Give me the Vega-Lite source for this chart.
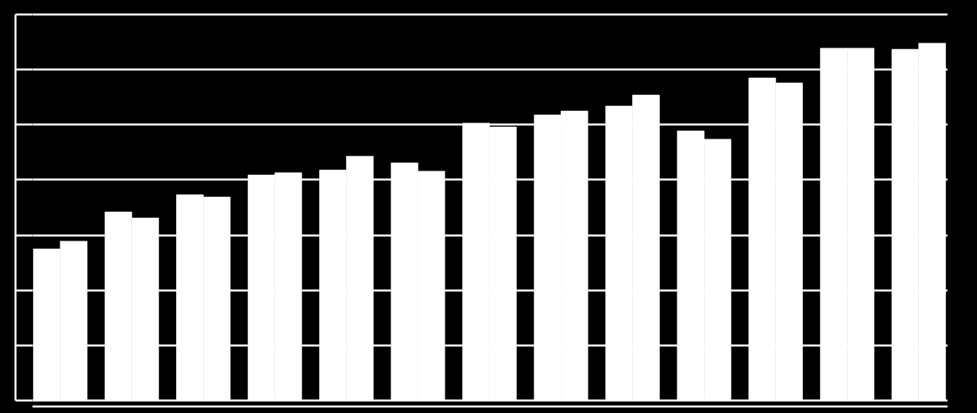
{
  "$schema": "https://vega.github.io/schema/vega-lite/v6.json",
  "width": 915,
  "height": 386,
  "autosize": "none",
  "padding": {"left": 32, "top": 14, "right": 30, "bottom": 13},
  "background": "black",
  "config": {"view": {"stroke": null}},
  "data": {
    "values": [
      {"group": "1", "series": "A", "value": 274}, {"group": "1", "series": "B", "value": 288},
      {"group": "2", "series": "A", "value": 341}, {"group": "2", "series": "B", "value": 330},
      {"group": "3", "series": "A", "value": 372}, {"group": "3", "series": "B", "value": 368},
      {"group": "4", "series": "A", "value": 408}, {"group": "4", "series": "B", "value": 412},
      {"group": "5", "series": "A", "value": 417}, {"group": "5", "series": "B", "value": 442},
      {"group": "6", "series": "A", "value": 430}, {"group": "6", "series": "B", "value": 415},
      {"group": "7", "series": "A", "value": 502}, {"group": "7", "series": "B", "value": 495},
      {"group": "8", "series": "A", "value": 517}, {"group": "8", "series": "B", "value": 524},
      {"group": "9", "series": "A", "value": 533}, {"group": "9", "series": "B", "value": 553},
      {"group": "10", "series": "A", "value": 488}, {"group": "10", "series": "B", "value": 473},
      {"group": "11", "series": "A", "value": 584}, {"group": "11", "series": "B", "value": 575},
      {"group": "12", "series": "A", "value": 638}, {"group": "12", "series": "B", "value": 638},
      {"group": "13", "series": "A", "value": 636}, {"group": "13", "series": "B", "value": 647}
    ]
  },
  "mark": {"type": "bar", "fill": "white", "stroke": "white", "strokeWidth": 0.6},
  "encoding": {
    "x": {
      "field": "group",
      "type": "ordinal",
      "sort": null,
      "scale": {"paddingInner": 0.25, "paddingOuter": 0.02},
      "axis": {
        "labels": false,
        "ticks": false,
        "title": null,
        "domainColor": "white",
        "domainWidth": 2,
        "offset": 6
      }
    },
    "xOffset": {
      "field": "series",
      "type": "nominal",
      "scale": {"paddingInner": 0, "paddingOuter": 0}
    },
    "y": {
      "field": "value",
      "type": "quantitative",
      "scale": {"domain": [0, 700], "nice": false},
      "axis": {
        "values": [0, 100, 200, 300, 400, 500, 600, 700],
        "labels": false,
        "title": null,
        "grid": true,
        "gridColor": "white",
        "gridWidth": 2,
        "gridOpacity": 1,
        "tickColor": "white",
        "tickSize": -17,
        "tickWidth": 2,
        "domainColor": "white",
        "domainWidth": 2,
        "offset": 17
      }
    }
  }
}
